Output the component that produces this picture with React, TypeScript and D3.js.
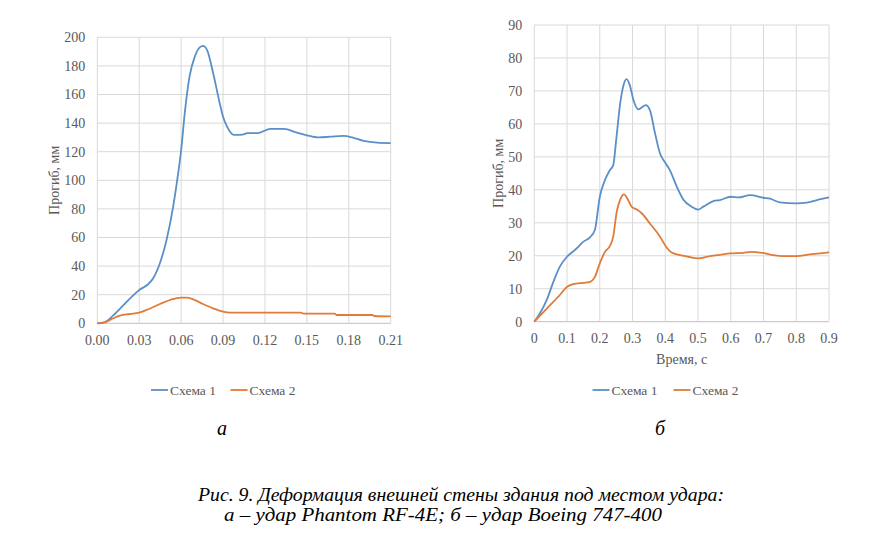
import React from 'react';
import * as d3 from 'd3';

// chart "а" – Phantom RF-4E
const timeA1 = [0, 0.0047, 0.0114, 0.0186, 0.0257, 0.03, 0.0364, 0.04, 0.0448, 0.0495, 0.0543, 0.0579, 0.06, 0.0626, 0.066, 0.0698, 0.0733, 0.0757, 0.0786, 0.0829, 0.0876, 0.09, 0.0929, 0.0978, 0.104, 0.1074, 0.1145, 0.124, 0.1336, 0.143, 0.15, 0.1585, 0.167, 0.1764, 0.1824, 0.1907, 0.2003, 0.21];
const schemeA1 = [0, 0.5, 5.5, 12.5, 19.5, 23.3, 27.3, 31.5, 42, 58, 81.6, 105, 121, 147, 172.5, 186.5, 193, 194, 191, 175, 154, 144.5, 137.5, 131.7, 132, 133, 133, 136, 136, 133.3, 131.5, 130, 130.5, 131, 130, 127.5, 126.3, 126];
const timeA2 = [0, 0.0067, 0.0114, 0.0162, 0.0233, 0.03, 0.0364, 0.0448, 0.052, 0.06, 0.0638, 0.0686, 0.0757, 0.0829, 0.09, 0.0948, 0.12, 0.1455, 0.1475, 0.17, 0.1712, 0.197, 0.198, 0.21];
const schemeA2 = [0, 1.2, 3.5, 5.4, 6.5, 7.5, 9.8, 13.5, 16.3, 18, 18, 16.8, 13.5, 10.5, 8.2, 7.5, 7.5, 7.5, 6.8, 6.8, 5.8, 5.8, 5.1, 4.8];
const xTicksA = [0, 0.03, 0.06, 0.09, 0.12, 0.15, 0.18, 0.21];
const yTicksA = [0, 20, 40, 60, 80, 100, 120, 140, 160, 180, 200];

// chart "б" – Boeing 747-400
const timeB1 = [0, 0.017, 0.038, 0.058, 0.078, 0.1, 0.129, 0.15, 0.17, 0.185, 0.2, 0.216, 0.231, 0.241, 0.251, 0.262, 0.272, 0.282, 0.292, 0.303, 0.318, 0.328, 0.34, 0.353, 0.369, 0.384, 0.4, 0.414, 0.435, 0.455, 0.48, 0.5, 0.516, 0.547, 0.567, 0.6, 0.623, 0.659, 0.7, 0.72, 0.75, 0.8, 0.832, 0.863, 0.9];
const schemeB1 = [0, 2.5, 6.6, 12, 16.7, 19.7, 22.2, 24.3, 25.6, 27.8, 37.9, 43, 46, 47.5, 56, 66, 71.6, 73.6, 71.6, 67.2, 64.4, 65, 65.7, 64.2, 57, 51, 48.2, 46, 41, 37.1, 34.9, 34, 34.9, 36.6, 36.9, 37.9, 37.7, 38.4, 37.6, 37.3, 36.2, 35.9, 36.1, 36.9, 37.7];
const timeB2 = [0, 0.038, 0.078, 0.1, 0.119, 0.15, 0.17, 0.185, 0.2, 0.216, 0.231, 0.241, 0.251, 0.264, 0.274, 0.284, 0.297, 0.313, 0.328, 0.353, 0.384, 0.404, 0.419, 0.445, 0.47, 0.5, 0.537, 0.567, 0.6, 0.638, 0.664, 0.7, 0.73, 0.76, 0.8, 0.842, 0.9];
const schemeB2 = [0, 4, 8.1, 10.6, 11.4, 11.8, 12.1, 13.6, 17.7, 21.2, 23, 25.8, 32.9, 37.4, 38.6, 37.4, 34.9, 34, 32.9, 29.8, 25.8, 22.5, 21, 20.2, 19.7, 19.2, 19.9, 20.3, 20.7, 20.9, 21.2, 20.8, 20.2, 19.9, 19.9, 20.4, 21];
const xTicksB = [0, 0.1, 0.2, 0.3, 0.4, 0.5, 0.6, 0.7, 0.8, 0.9];
const yTicksB = [0, 10, 20, 30, 40, 50, 60, 70, 80, 90];

const seriesNames = ['Схема 1', 'Схема 2'];
const seriesColors = ['#5b8fc8', '#e07b39'];

const FONT = "'Liberation Serif', 'Times New Roman', Times, serif";
const GRAY = '#595959';

type Pt = [number, number];
const zip = (t: number[], v: number[]): Pt[] => t.map((d, i) => [d, v[i]]);

function Panel(props: any) {
  const { x0, x1, top, bottom, xDomain, yDomain, xTicks, yTicks, xFmt, series, xTitle, yTitleX, legendX } = props;
  const x = d3.scaleLinear().domain(xDomain).range([x0, x1]);
  const y = d3.scaleLinear().domain(yDomain).range([bottom, top]);
  const line = d3.line<Pt>().x(d => x(d[0])).y(d => y(d[1])).curve(d3.curveMonotoneX);
  const midY = (top + bottom) / 2;
  return (
    <g>
      {yTicks.map((t: number) => (
        <line key={'h' + t} x1={x0} x2={x1} y1={y(t)} y2={y(t)} stroke={t === 0 ? '#bfbfbf' : '#d9d9d9'} strokeWidth={1} />
      ))}
      {xTicks.map((t: number) => (
        <line key={'v' + t} x1={x(t)} x2={x(t)} y1={top} y2={bottom} stroke="#d9d9d9" strokeWidth={1} />
      ))}
      {series.map((s: Pt[], i: number) => (
        <path key={i} d={line(s) || ''} fill="none" stroke={seriesColors[i]} strokeWidth={1.8} strokeLinejoin="round" />
      ))}
      {yTicks.map((t: number) => (
        <text key={'yl' + t} x={x0 - 12} y={y(t) + 4.8} textAnchor="end" fontSize={14} fill={GRAY}>{t}</text>
      ))}
      {xTicks.map((t: number) => (
        <text key={'xl' + t} x={x(t)} y={bottom + 21.5} textAnchor="middle" fontSize={14} fill={GRAY}>{xFmt(t)}</text>
      ))}
      {xTitle && (
        <text x={(x0 + x1) / 2} y={bottom + 42} textAnchor="middle" fontSize={14} fill={GRAY}>{xTitle}</text>
      )}
      <text transform={`translate(${yTitleX},${midY}) rotate(-90)`} textAnchor="middle" fontSize={14} fill={GRAY}>Прогиб, мм</text>
      {seriesNames.map((n, i) => (
        <g key={n} transform={`translate(${legendX[i]},390)`}>
          <line x1={0} x2={17} y1={0} y2={0} stroke={seriesColors[i]} strokeWidth={1.8} />
          <text x={19} y={4.6} fontSize={13.5} fill={GRAY}>{n}</text>
        </g>
      ))}
    </g>
  );
}

export default function App() {
  return (
    <svg width={881} height={545} style={{ position: 'absolute', left: 0, top: 0, background: '#fff', fontFamily: FONT }}>
      <rect width={881} height={545} fill="#fff" />
      <Panel
        x0={97.3} x1={390.7} top={37.3} bottom={323.3}
        xDomain={[0, 0.21]} yDomain={[0, 200]}
        xTicks={xTicksA} yTicks={yTicksA}
        xFmt={d3.format('.2f')}
        series={[zip(timeA1, schemeA1), zip(timeA2, schemeA2)]}
        yTitleX={59}
        legendX={[151, 230.5]}
      />
      <Panel
        x0={534.3} x1={829} top={25} bottom={321.7}
        xDomain={[0, 0.9]} yDomain={[0, 90]}
        xTicks={xTicksB} yTicks={yTicksB}
        xFmt={(d: number) => (d === 0 ? '0' : d3.format('.1f')(d))}
        series={[zip(timeB1, schemeB1), zip(timeB2, schemeB2)]}
        xTitle="Время, с"
        yTitleX={503}
        legendX={[592.5, 673.5]}
      />
      <text x={222} y={435} textAnchor="middle" fontSize={20} fontStyle="italic">а</text>
      <text x={660} y={435} textAnchor="middle" fontSize={20} fontStyle="italic">б</text>
      <text x={198} y={500.5} fontSize={18.5} fontStyle="italic" textLength={526} lengthAdjust="spacingAndGlyphs">Рис. 9. Деформация внешней стены здания под местом удара:</text>
      <text x={224} y={521} fontSize={18.5} fontStyle="italic" textLength={438} lengthAdjust="spacingAndGlyphs">а – удар Phantom RF-4E; б – удар Boeing 747-400</text>
    </svg>
  );
}
